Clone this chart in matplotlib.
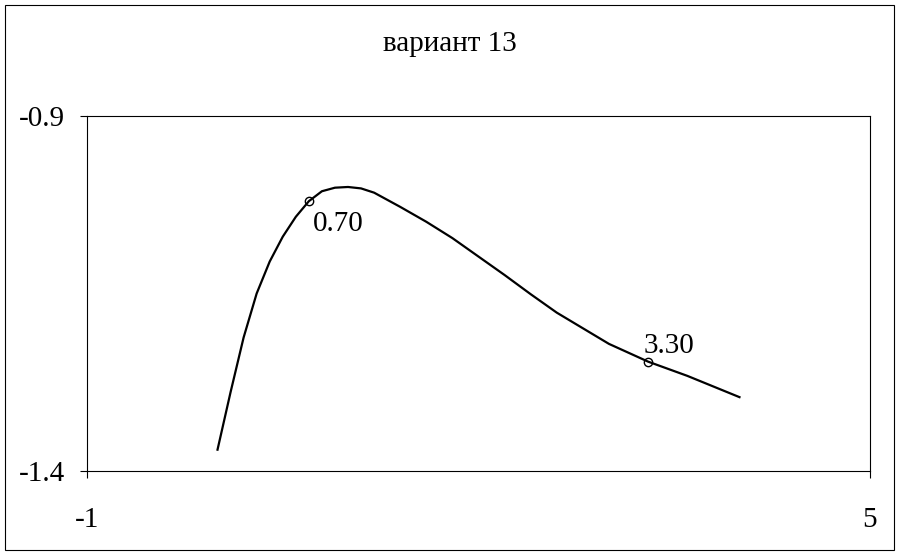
import matplotlib.pyplot as plt
from matplotlib.patches import Rectangle

plt.rcParams['font.family'] = ['Liberation Serif', 'DejaVu Serif']

# curve values
x_vals = [0.0, 0.1, 0.2, 0.3, 0.4, 0.5, 0.6, 0.7, 0.8, 0.9, 1.0, 1.1, 1.2,
          1.4, 1.6, 1.8, 2.0, 2.2, 2.4, 2.6, 2.8, 3.0, 3.3, 3.6, 4.0]
y_vals = [-1.370, -1.289, -1.212, -1.150, -1.105, -1.070, -1.042, -1.020,
          -1.006, -1.001, -1.000, -1.002, -1.008, -1.028, -1.049, -1.072,
          -1.098, -1.124, -1.151, -1.177, -1.199, -1.221, -1.246, -1.266,
          -1.296]

# marked points
mark_x = [0.70, 3.30]
mark_y = [-1.020, -1.246]
mark_labels = ['0.70', '3.30']

title = 'вариант 13'

fig = plt.figure(figsize=(8.99, 5.56), dpi=100)
ax = fig.add_axes([0.0968, 0.1529, 0.8709, 0.6385])

ax.plot(x_vals, y_vals, color='black', lw=1.6, solid_joinstyle='round')
ax.plot(mark_x, mark_y, 'o', ms=6, mfc='none', mec='black', mew=1)

ax.annotate(mark_labels[0], (mark_x[0], mark_y[0]), xytext=(3, -7),
            textcoords='offset points', ha='left', va='top', fontsize=21)
ax.annotate(mark_labels[1], (mark_x[1], mark_y[1]), xytext=(-3, 2),
            textcoords='offset points', ha='left', va='bottom', fontsize=21)

ax.set_xlim(-1, 5)
ax.set_ylim(-1.4, -0.9)
ax.set_xticks([-1, 5])
ax.set_xticklabels(['-1', '5'])
ax.set_yticks([-1.4, -0.9])
ax.set_yticklabels(['-1.4', '-0.9'])
ax.tick_params(axis='x', length=5, width=0.8, pad=21, labelsize=21)
ax.tick_params(axis='y', length=5, width=0.8, pad=11, labelsize=21)
for s in ax.spines.values():
    s.set_linewidth(0.8)

fig.text(0.5, 0.921, title, ha='center', va='center', fontsize=21)

fig.patches.append(Rectangle((0.006, 0.011), 0.988, 0.98, fill=False,
                             lw=0.8, ec='black', transform=fig.transFigure))

fig.savefig('out.png', dpi=100)
